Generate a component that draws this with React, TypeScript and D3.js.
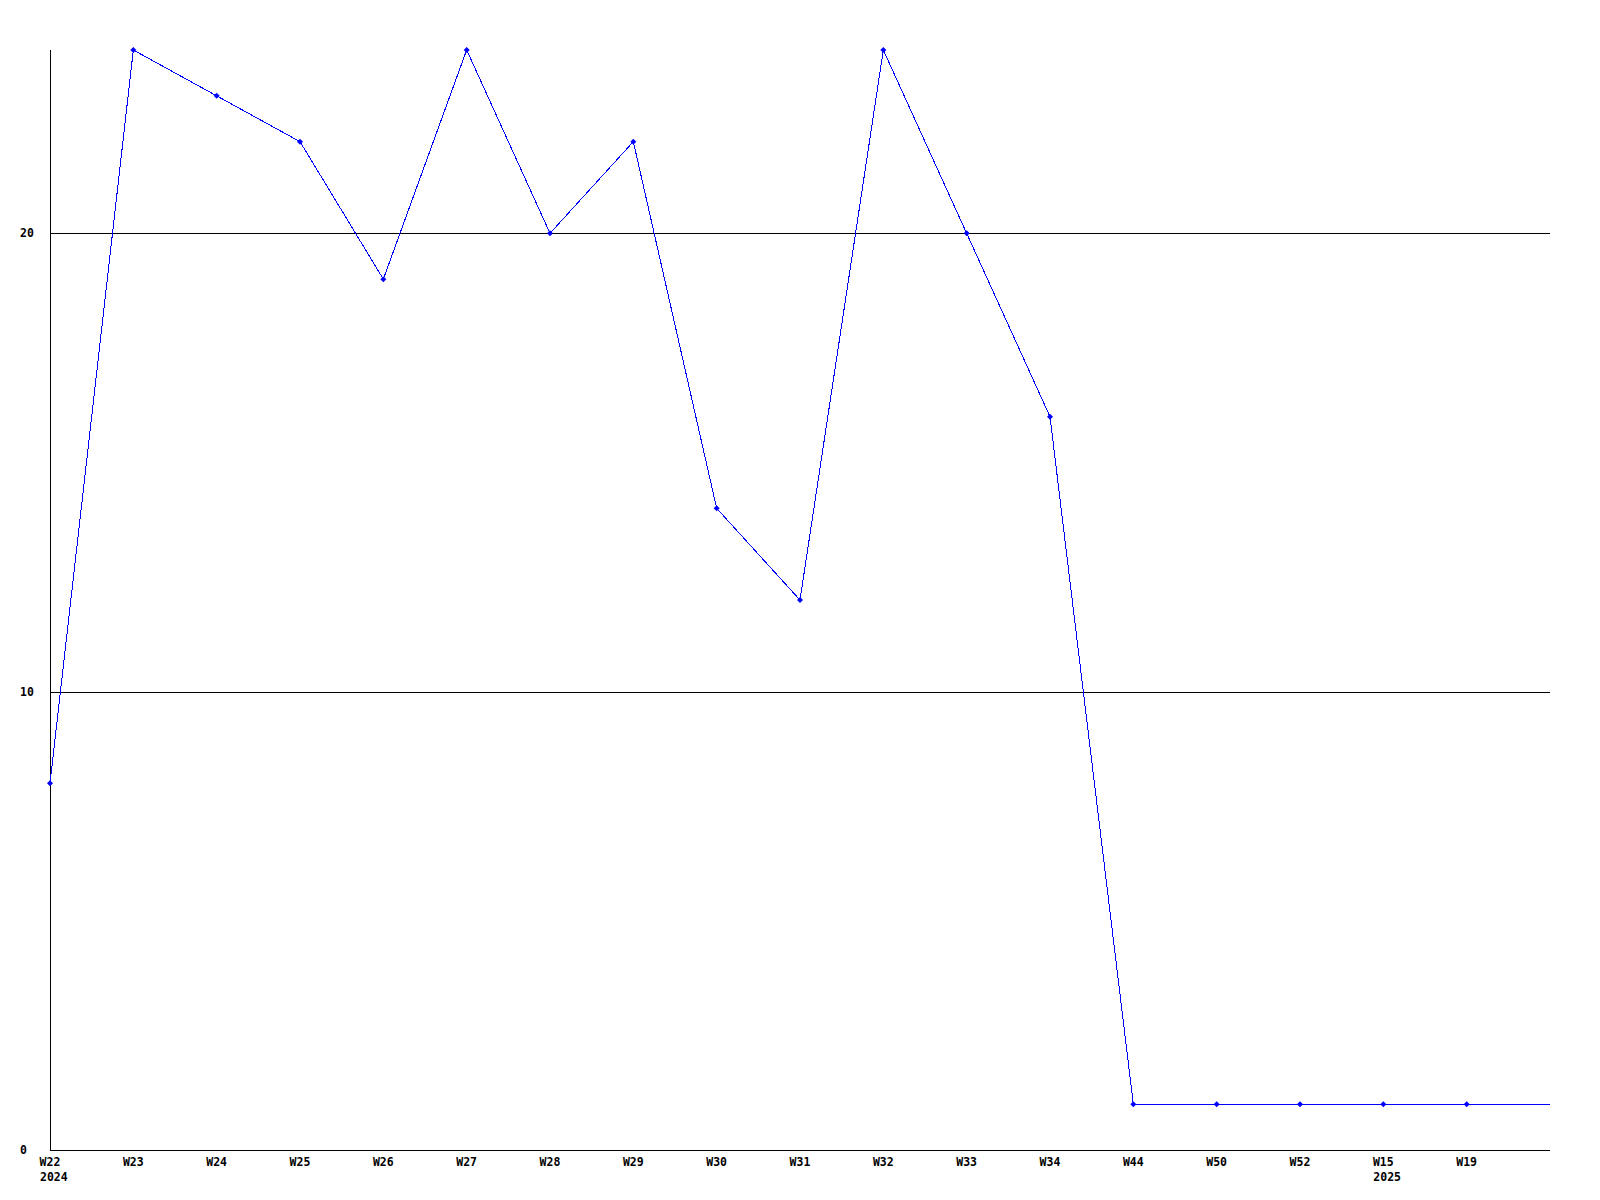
import React from "react";
import * as d3 from "d3";

const weekLabels = ["W22", "W23", "W24", "W25", "W26", "W27", "W28", "W29", "W30", "W31", "W32", "W33", "W34", "W44", "W50", "W52", "W15", "W19", ""];
const yearLabels = ["2024", "", "", "", "", "", "", "", "", "", "", "", "", "", "", "", "2025", "", ""];
const seriesValues = [8, 24, 23, 22, 19, 24, 20, 22, 14, 12, 24, 20, 16, 1, 1, 1, 1, 1, 1];
const yTicks = [0, 10, 20];

const W = 1600;
const H = 1200;
const left = 50;
const right = 1550;
const top = 50;
const bottom = 1150;

export default function App() {
  const x = d3.scaleLinear().domain([0, weekLabels.length - 1]).range([left, right]);
  const y = d3.scaleLinear().domain([0, 24]).range([bottom, top]);
  const line = d3
    .line<number>()
    .x((_, i) => x(i))
    .y((d) => y(d));
  const font = "'DejaVu Sans Mono', monospace";
  return (
    <svg width={W} height={H} style={{ position: "absolute", left: 0, top: 0, background: "#fff" }}>
      <rect x={0} y={0} width={W} height={H} fill="#fff" />
      {yTicks.filter((t) => t > 0).map((t) => (
        <line key={t} x1={left} x2={right} y1={Math.round(y(t)) + 0.5} y2={Math.round(y(t)) + 0.5} stroke="#000" strokeWidth={1} shapeRendering="crispEdges" />
      ))}
      <line x1={left + 0.5} x2={left + 0.5} y1={top} y2={bottom + 0.5} stroke="#000" strokeWidth={1} shapeRendering="crispEdges" />
      <line x1={left} x2={right} y1={bottom + 0.5} y2={bottom + 0.5} stroke="#000" strokeWidth={1} shapeRendering="crispEdges" />
      {yTicks.map((t) => (
        <text key={t} x={20} y={y(t) + 4} fontFamily={font} fontWeight="bold" fontSize={11.5} fill="#000">
          {t}
        </text>
      ))}
      {weekLabels.map((l, i) =>
        l ? (
          <text key={"w" + i} x={x(i)} y={1166} textAnchor="middle" fontFamily={font} fontWeight="bold" fontSize={11.5} fill="#000">
            {l}
          </text>
        ) : null
      )}
      {yearLabels.map((l, i) =>
        l ? (
          <text key={"y" + i} x={x(i) - 10} y={1181} fontFamily={font} fontWeight="bold" fontSize={11.5} fill="#000">
            {l}
          </text>
        ) : null
      )}
      <path d={line(seriesValues) || ""} fill="none" stroke="#0000ff" strokeWidth={1} shapeRendering="crispEdges" />
      {seriesValues.map((v, i) =>
        weekLabels[i] ? (
          <path
            key={"m" + i}
            d={`M${x(i)},${y(v) - 3}L${x(i) + 3},${y(v)}L${x(i)},${y(v) + 3}L${x(i) - 3},${y(v)}Z`}
            fill="#0000ff"
          />
        ) : null
      )}
    </svg>
  );
}
